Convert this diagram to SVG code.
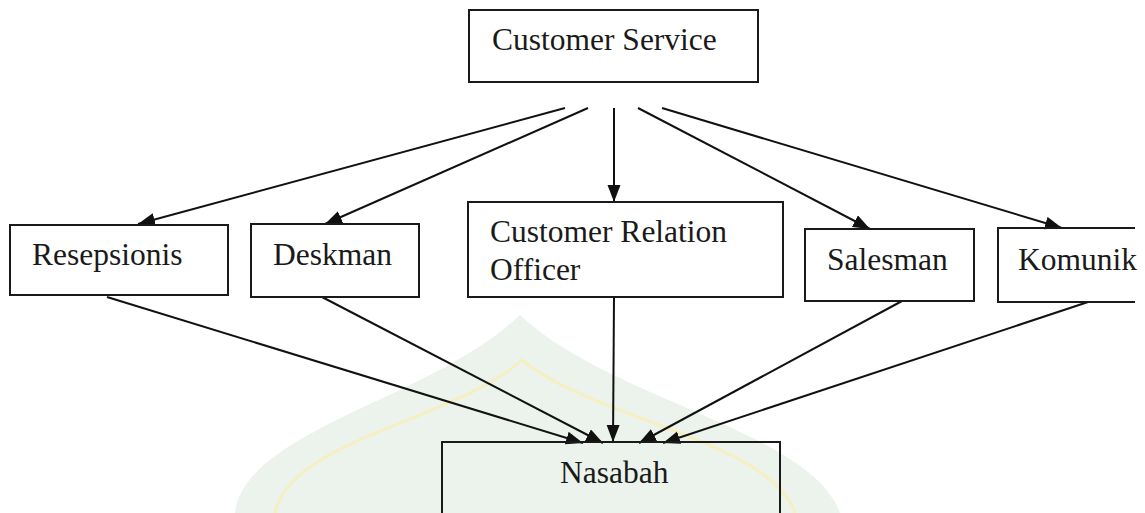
<svg xmlns="http://www.w3.org/2000/svg" width="1145" height="513" viewBox="0 0 1145 513">
  <style>
    .box { fill: none; stroke: #1a1a1a; stroke-width: 2; }
    .lbl { font-family: "Liberation Serif", "Times New Roman", serif; font-size: 31.5px; fill: #1a1a1a; }
    .edge { stroke: #111; stroke-width: 2; fill: none; marker-end: url(#arr); }
  </style>
  <defs>
    <marker id="arr" markerUnits="userSpaceOnUse" markerWidth="18" markerHeight="14" refX="17" refY="6.5" orient="auto">
      <path d="M0,0 L17,6.5 L0,13 z" fill="#111"/>
    </marker>
  </defs>
  <rect width="1145" height="513" fill="#ffffff"/>
  <g id="watermark">
    <path d="M235 513 C245 430 430 400 520 315 C610 400 810 430 840 513 Z" fill="#ebf3ec"/>
    <path d="M275 513 C290 440 455 420 522 360 C595 420 770 440 795 513" fill="none" stroke="#f5efc2" stroke-width="3"/>
  </g>
  <g id="connectors">
    <line class="edge" x1="565" y1="108" x2="138" y2="224"/>
    <line class="edge" x1="588" y1="108" x2="325" y2="224"/>
    <line class="edge" x1="614" y1="108" x2="614" y2="202"/>
    <line class="edge" x1="638" y1="108" x2="870" y2="229"/>
    <line class="edge" x1="662" y1="108" x2="1062" y2="228"/>
    <line class="edge" x1="107" y1="297" x2="583" y2="443"/>
    <line class="edge" x1="322" y1="297" x2="603" y2="443"/>
    <line class="edge" x1="614" y1="297" x2="613" y2="442"/>
    <line class="edge" x1="902" y1="301" x2="639" y2="443"/>
    <line class="edge" x1="1088" y1="302" x2="663" y2="443"/>
  </g>
  <g id="customer-service">
    <rect class="box" x="469" y="10" width="289" height="72"/>
    <text class="lbl" x="492" y="50">Customer Service</text>
  </g>
  <g id="resepsionis">
    <rect class="box" x="10" y="225" width="218" height="70"/>
    <text class="lbl" x="32" y="265">Resepsionis</text>
  </g>
  <g id="deskman">
    <rect class="box" x="251" y="224" width="168" height="73"/>
    <text class="lbl" x="273" y="265">Deskman</text>
  </g>
  <g id="customer-relation-officer">
    <rect class="box" x="468" y="202" width="315" height="95"/>
    <text class="lbl" x="490" y="242">Customer Relation</text>
    <text class="lbl" x="490" y="280">Officer</text>
  </g>
  <g id="salesman">
    <rect class="box" x="805" y="229" width="169" height="72"/>
    <text class="lbl" x="827" y="270">Salesman</text>
  </g>
  <g id="komunik">
    <path class="box" d="M1135 228 L998 228 L998 302 L1135 302"/>
    <text class="lbl" x="1018" y="270">Komunik</text>
  </g>
  <g id="nasabah">
    <rect class="box" x="442" y="442" width="338" height="90"/>
    <text class="lbl" x="560" y="483">Nasabah</text>
  </g>
</svg>
